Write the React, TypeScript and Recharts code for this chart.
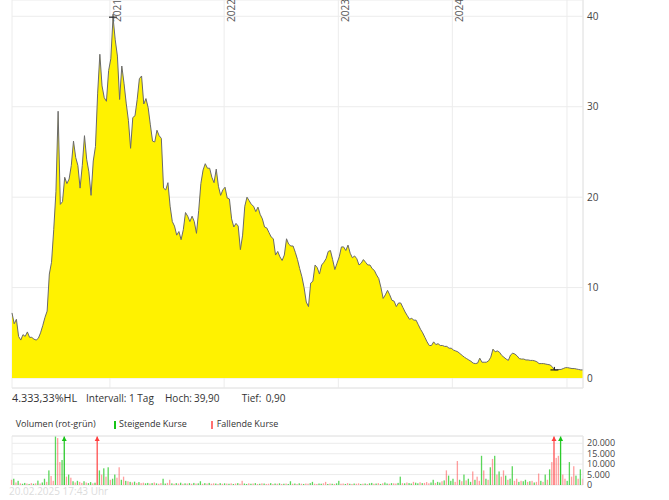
import { Area, AreaChart, Bar, BarChart, CartesianGrid, XAxis, YAxis } from "recharts";

// weekly closes, Feb 2020 .. Feb 2025
const prices = [
  7.2, 6.0, 6.5, 4.6, 4.2, 4.8, 4.6, 5.1, 4.5, 4.5, 4.3, 4.2, 4.4, 5.0, 5.8, 6.7, 7.4, 11.5, 12.8, 16.4,
  20.6, 29.5, 19.2, 19.5, 22.2, 21.5, 22.0, 23.5, 26.2, 24.4, 23.5, 21.0, 23.5, 26.8, 24.2, 22.8, 20.2, 24.0, 25.6, 31.5,
  35.8, 32.3, 31.0, 30.6, 34.0, 35.3, 39.9, 37.4, 35.6, 30.8, 34.5, 32.6, 30.4, 28.5, 25.4, 28.8, 29.0, 30.8, 33.1, 33.4,
  30.3, 30.9, 29.9, 28.0, 26.2, 26.1, 27.4, 26.8, 26.5, 21.0, 20.8, 21.6, 19.0, 17.3, 16.8, 15.8, 16.2, 15.3, 16.4, 18.3,
  17.9, 17.3, 17.9, 17.3, 16.0, 18.5, 21.5, 23.0, 23.7, 23.2, 23.2, 22.2, 21.6, 23.1, 21.2, 20.2, 20.8, 21.1, 19.9, 19.8,
  17.6, 16.7, 17.1, 16.8, 14.2, 15.8, 19.0, 20.0, 19.6, 19.2, 19.0, 18.4, 18.9, 18.1, 17.6, 16.7, 16.6, 16.1, 15.6, 15.4,
  13.6, 14.0, 13.4, 13.0, 13.6, 15.4, 14.8, 14.6, 14.6, 13.9, 13.1, 12.1, 11.2, 10.0, 8.4, 7.9, 10.5, 10.7, 12.5, 12.2,
  11.5, 12.5, 12.8, 13.2, 14.0, 14.1, 13.1, 12.0, 12.7, 13.4, 14.5, 14.5, 14.1, 14.7, 13.8, 13.3, 13.5, 13.2, 12.5, 12.7,
  13.1, 12.8, 12.5, 12.5, 12.1, 11.9, 11.4, 11.0, 10.0, 8.8, 9.2, 9.7, 9.2, 8.6, 8.5, 7.9, 8.3, 8.3, 7.8, 7.3,
  6.9, 6.5, 6.6, 6.4, 6.4, 5.9, 5.4, 5.0, 4.5, 4.0, 3.6, 3.6, 4.0, 3.7, 3.8, 3.6, 3.6, 3.5, 3.5, 3.3,
  3.3, 3.1, 3.0, 2.9, 2.7, 2.5, 2.3, 2.15, 2.0, 1.85, 1.65, 1.6, 1.65, 2.2, 1.75, 1.75, 1.75, 1.9, 2.3, 3.2,
  2.9, 3.0, 2.85, 2.5, 2.3, 2.1, 1.95, 2.55, 2.75, 2.65, 2.45, 2.15, 2.1, 2.1, 2.0, 2.0, 1.95, 1.95, 1.9, 1.8,
  1.6, 1.6, 1.6, 1.55, 1.5, 1.45, 1.25, 0.9, 0.9, 0.95, 0.95, 1.05, 1.15, 1.15, 1.1, 1.05, 1.05, 1.0, 0.95, 0.9, 0.9,
];

const volumes = [
  2500, 3000, 1200, 2000, 800, 600, 1000, 700, 500, 900, 600, 800, 2100, 700, 1200, 3000, 1500, 7000, 4300, 2000,
  23400, 22500, 11000, 12000, 32000, 4000, 5000, 3500, 1800, 1200, 2000, 1500, 1000, 1800, 1200, 900, 1400, 800, 1100, 30000,
  7000, 5000, 8000, 4000, 8500, 2500, 3000, 5000, 3500, 8500, 2500, 4000, 2000, 1800, 1500, 1200, 1600, 1000, 1400, 900,
  1100, 800, 1000, 700, 900, 1200, 800, 600, 900, 3000, 700, 1000, 2500, 800, 600, 900, 700, 1100, 600, 800,
  700, 900, 600, 1000, 700, 800, 1800, 600, 900, 700, 1000, 600, 800, 700, 500, 900, 600, 800, 700, 600,
  800, 500, 700, 900, 600, 2000, 700, 500, 800, 600, 700, 900, 500, 600, 800, 700, 500, 600, 900, 500,
  700, 600, 800, 500, 600, 700, 500, 1800, 600, 700, 500, 800, 600, 500, 700, 600, 900, 1500, 600, 500,
  700, 600, 800, 1500, 500, 700, 600, 500, 800, 2000, 600, 700, 500, 900, 600, 500, 700, 600, 800, 500,
  600, 700, 500, 800, 1000, 600, 700, 900, 500, 800, 1200, 700, 600, 900, 800, 700, 1000, 4000, 900, 800,
  1200, 900, 700, 1500, 1100, 800, 1300, 900, 1000, 1400, 800, 1200, 2500, 1000, 1500, 1200, 1800, 2200, 7000, 4500,
  2000, 3000, 1500, 11500, 2500, 1800, 5000, 2200, 3000, 1500, 6500, 2500, 4000, 2000, 14000, 7000, 3000, 2500, 8500, 12500,
  14000, 5000, 6500, 4000, 7000, 4500, 2500, 3000, 9000, 2000, 3000, 1500, 2000, 1800, 2500, 1500, 1800, 2000, 1200, 1500,
  5500, 2000, 1500, 5000, 2500, 7500, 11000, 30000, 13000, 14000, 30000, 5000, 3000, 2000, 11000, 4000, 9000, 4500, 3000, 7500, 3000,
];

// u = steigend, d = fallend
const direction = [
  "dudud", "uudud", "ududu", "ududd",
  "udduu", "dudud", "uddud", "uudud",
  "ududu", "duudd", "ududu", "dudud",
  "duudu", "duddu", "uddud", "ududu",
  "dudud", "uudud", "uddud", "ududu",
  "dudud", "duudu", "dudud", "uddud",
  "ududu", "duudu", "dudud", "duudd",
  "uuddu", "duduu", "ddudu", "duddu",
  "duduu", "dudud", "uudud", "duudu",
  "duudu", "ududd", "duudu", "ududu",
  "uuddu", "duduu", "duddu", "dudud",
  "ududd", "uduud", "duduu", "dudud",
  "dudud", "udddd", "udduu", "ddudu", "d",
].join("");

const yearTicks = [44.6, 96.6, 148.6, 200.5, 252.7];
const yearLabels = ["2021", "2022", "2023", "2024", ""];
const priceTicks = [0, 10, 20, 30, 40];
const volumeTicks = [0, 5000, 10000, 15000, 20000];

const FONT = "'Open Sans', sans-serif";
const GREEN = "#16c416";
const RED = "#ff3d3d";

const data = prices.map((p, i) => ({ i, p, v: volumes[i], up: direction[i] === "u" }));
const highIdx = prices.indexOf(Math.max(...prices));
const lowIdx = prices.indexOf(Math.min(...prices));

function YearTick(props: any) {
  const { x, payload } = props;
  const label = yearLabels[yearTicks.indexOf(payload.value)];
  return (
    <text
      transform={`translate(${x + 11},23) rotate(-90)`}
      fontSize={10}
      fontFamily={FONT}
      fill="#555"
    >
      {label}
    </text>
  );
}

function HighLowDot(props: any) {
  const { cx, cy, index } = props;
  if (index !== highIdx && index !== lowIdx) return <g key={index} />;
  return (
    <g key={index}>
      <line x1={cx - 4} x2={cx + 4} y1={cy} y2={cy} stroke="#222" strokeWidth={1.2} />
      <line x1={cx} x2={cx} y1={cy - 3} y2={cy} stroke="#222" strokeWidth={1} />
    </g>
  );
}

function VolumeBar(props: any) {
  const { x, y, width, height, payload } = props;
  const color = payload.up ? GREEN : RED;
  const top = Math.max(y, 1);
  const h = Math.max(y + height - top, 0);
  const clipped = y < 1;
  const cx = x + width / 2;
  return (
    <g>
      <rect
        x={x}
        y={top}
        width={width}
        height={h}
        fill={color}
        fillOpacity={clipped ? 0.9 : payload.up ? 0.7 : 0.5}
      />
      {clipped && <path d={`M${cx - 2.5},6 L${cx},1.5 L${cx + 2.5},6 Z`} fill={color} />}
    </g>
  );
}

const fmtVolume = (v: number) => (v >= 1000 ? `${v / 1000}.000` : `${v}`);

function Label({ left, top, size, children, color }: any) {
  return (
    <div
      style={{
        position: "absolute",
        left,
        top: top - 7,
        fontFamily: FONT,
        fontSize: size ?? 10,
        lineHeight: "14px",
        color: color ?? "#333",
        whiteSpace: "nowrap",
      }}
    >
      {children}
    </div>
  );
}

export default function App() {
  return (
    <div style={{ position: "absolute", left: 0, top: 0, width: 669, height: 500, background: "#fff", overflow: "hidden" }}>
      <div style={{ position: "absolute", left: 0, top: -1 }}>
        <AreaChart width={669} height={391} data={data} margin={{ top: 0, right: 0, bottom: 1, left: 12 }}>
          <CartesianGrid stroke="#ececec" />
          <XAxis
            dataKey="i"
            type="number"
            domain={[0, 260]}
            ticks={yearTicks}
            interval={0}
            orientation="top"
            height={1}
            axisLine={false}
            tickLine={false}
            tick={YearTick}
          />
          <XAxis
            xAxisId="frame"
            dataKey="i"
            type="number"
            domain={[0, 260]}
            orientation="bottom"
            height={1}
            tick={false}
            tickLine={false}
            axisLine={{ stroke: "#e6e6e6" }}
          />
          <YAxis
            orientation="right"
            domain={[-1.1, 41.8]}
            ticks={priceTicks}
            interval={0}
            allowDataOverflow
            width={86}
            tickLine={false}
            tickSize={0}
            tickMargin={4}
            axisLine={{ stroke: "#e6e6e6" }}
            tick={{ fontSize: 10, fill: "#444", fontFamily: FONT }}
          />
          <Area
            type="linear"
            dataKey="p"
            baseValue={0}
            stroke="#6a6a6a"
            strokeWidth={1}
            fill="#fff200"
            fillOpacity={1}
            dot={HighLowDot}
            activeDot={false}
            isAnimationActive={false}
          />
        </AreaChart>
      </div>

      <Label left={12} top={397.7} size={10.8}>4.333,33%HL</Label>
      <Label left={86} top={397.7}>Intervall: 1 Tag</Label>
      <Label left={165} top={397.7}>Hoch:</Label>
      <Label left={194} top={397.7}>39,90</Label>
      <Label left={241.7} top={397.7}>Tief:</Label>
      <Label left={265.7} top={397.7}>0,90</Label>

      <Label left={15.7} top={424.3} size={9}>Volumen (rot-grün)</Label>
      <div style={{ position: "absolute", left: 113.5, top: 420.5, width: 2, height: 8, background: GREEN }} />
      <Label left={119} top={424.3} size={9}>Steigende Kurse</Label>
      <div style={{ position: "absolute", left: 210.5, top: 420.5, width: 2, height: 8, background: "#ff7070" }} />
      <Label left={216.7} top={424.3} size={9}>Fallende Kurse</Label>

      <Label left={9} top={491} color="#dcdcdc">20.02.2025 17:43 Uhr</Label>

      <div style={{ position: "absolute", left: 0, top: 435 }}>
        <BarChart width={669} height={57} data={data} margin={{ top: 0, right: 0, bottom: 7, left: 12 }}>
          <CartesianGrid stroke="#ececec" />
          <XAxis
            dataKey="i"
            type="number"
            domain={[0, 260]}
            ticks={yearTicks}
            interval={0}
            orientation="top"
            height={1}
            tick={false}
            tickLine={false}
            axisLine={{ stroke: "#e6e6e6" }}
          />
          <YAxis
            orientation="right"
            domain={[0, 23500]}
            ticks={volumeTicks}
            interval={0}
            allowDataOverflow
            width={86}
            tickLine={false}
            tickSize={0}
            tickMargin={4}
            axisLine={{ stroke: "#e6e6e6" }}
            tickFormatter={fmtVolume}
            tick={{ fontSize: 9, fill: "#444", fontFamily: FONT }}
          />
          <Bar dataKey="v" barSize={1.3} shape={VolumeBar} isAnimationActive={false} />
        </BarChart>
      </div>
    </div>
  );
}
